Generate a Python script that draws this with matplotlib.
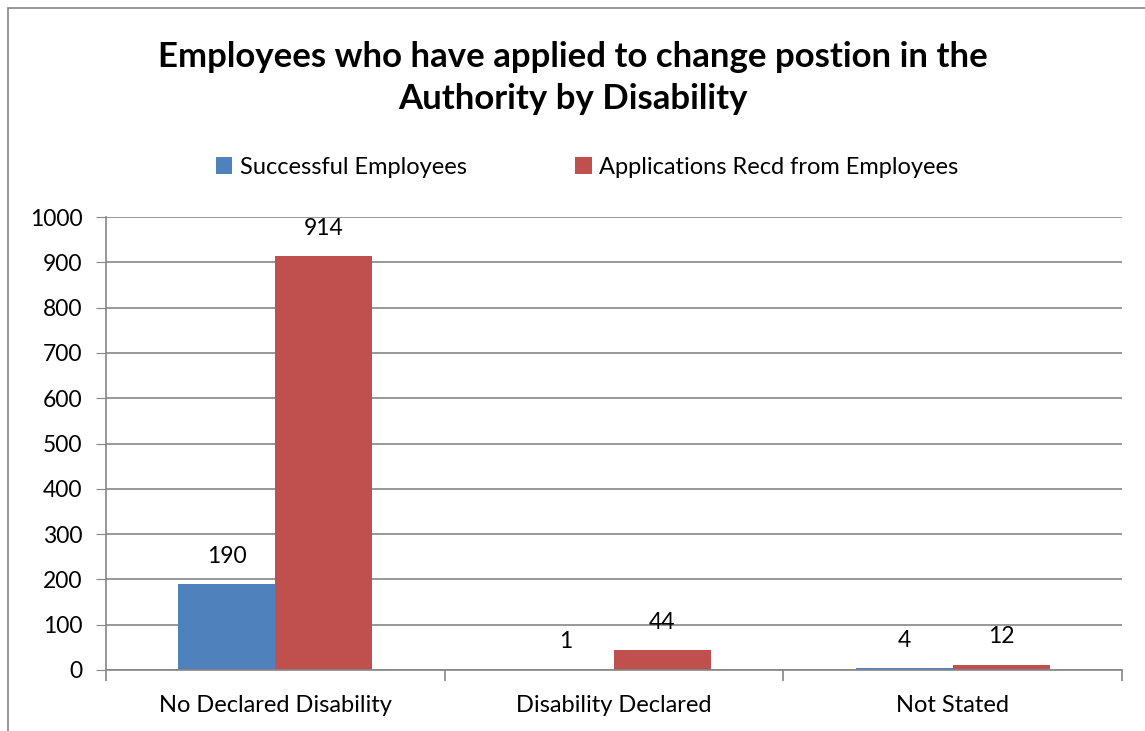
import numpy as np
import matplotlib
matplotlib.use("Agg")
import matplotlib.pyplot as plt
from matplotlib.patches import Rectangle

plt.rcParams['font.family'] = ['Lato', 'DejaVu Sans']

categories = ["No Declared Disability", "Disability Declared", "Not Stated"]
successful = [190, 1, 4]
applications = [914, 44, 12]
series_names = ["Successful Employees", "Applications Recd from Employees"]
yticks = [0, 100, 200, 300, 400, 500, 600, 700, 800, 900, 1000]

blue = "#4F81BD"
red = "#C0504D"
grey = "#868686"

fig = plt.figure(figsize=(11.45, 7.31), dpi=100)
# chart area border (cropped on right/bottom)
fig.patches.append(Rectangle((8 / 1145, -0.1), 1.2, 1 - 8 / 731 + 0.1,
                             transform=fig.transFigure, fill=False,
                             edgecolor=grey, linewidth=1.2))

ax = fig.add_axes([106 / 1145, 1 - 670 / 731, (1122 - 106) / 1145, (670 - 217) / 731])

x = np.arange(len(categories))
w = 0.286
b1 = ax.bar(x - w / 2, successful, w, color=blue, label=series_names[0])
b2 = ax.bar(x + w / 2, applications, w, color=red, label=series_names[1])

for bars, vals in [(b1, successful), (b2, applications)]:
    for rect, v in zip(bars, vals):
        ax.annotate(str(v), (rect.get_x() + rect.get_width() / 2, v),
                    xytext=(0, 20), textcoords="offset points",
                    ha="center", va="center", fontsize=16.5)

ax.set_xlim(-0.5, 2.5)
ax.set_ylim(0, 1000)
ax.set_yticks(yticks)
ax.tick_params(axis="y", labelsize=16.5, length=7, color=grey, pad=10)
ax.yaxis.grid(True, color=grey, linewidth=1.2)
ax.set_axisbelow(True)

ax.set_xticks(x)
ax.set_xticklabels(categories, fontsize=17)
ax.tick_params(axis="x", length=0, pad=18)
ax.set_xticks([-0.5, 0.5, 1.5, 2.5], minor=True)
ax.tick_params(axis="x", which="minor", length=8, color=grey, width=1.2)

for s in ["top", "right"]:
    ax.spines[s].set_visible(False)
for s in ["left", "bottom"]:
    ax.spines[s].set_color(grey)
    ax.spines[s].set_linewidth(1.2)

fig.text(0.5, 1 - 78 / 731,
         "Employees who have applied to change postion in the\nAuthority by Disability",
         ha="center", va="center", fontsize=25, fontweight="bold", linespacing=1.4)

fig.legend(handles=[b1, b2], loc="center", bbox_to_anchor=(587 / 1145, 1 - 167 / 731),
           ncol=2, frameon=False, fontsize=17, handlelength=0.7, handleheight=0.7,
           handletextpad=0.3, columnspacing=4.6)

fig.savefig("out.png", dpi=100)
